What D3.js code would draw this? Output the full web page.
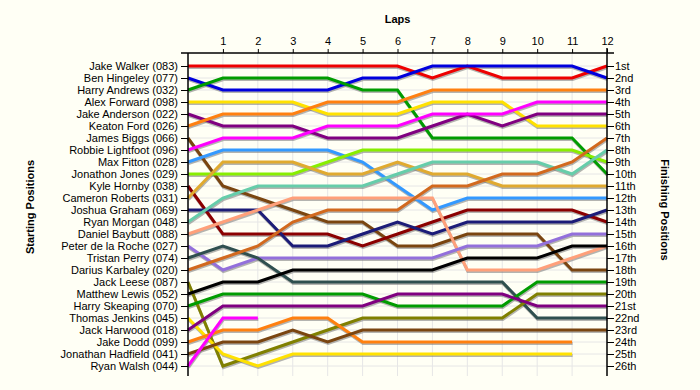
<!DOCTYPE html>
<html>
<head>
<meta charset="utf-8">
<script src="https://cdn.jsdelivr.net/npm/d3@7"></script>
<style>
  html, body { margin: 0; padding: 0; background: #fffff5; }
  svg { display: block; font-family: "Liberation Sans", Arial, sans-serif; }
</style>
</head>
<body>
<svg id="chart" width="700" height="390"></svg>
<script>
// ---- data ----
const laps = [0,1,2,3,4,5,6,7,8,9,10,11,12];
const lapLabels = ["1","2","3","4","5","6","7","8","9","10","11","12"];
const drivers = [
  "Jake Walker (083)", "Ben Hingeley (077)", "Harry Andrews (032)", "Alex Forward (098)",
  "Jake Anderson (022)", "Keaton Ford (026)", "James Biggs (066)", "Robbie Lightfoot (096)",
  "Max Fitton (028)", "Jonathon Jones (029)", "Kyle Hornby (038)", "Cameron Roberts (031)",
  "Joshua Graham (069)", "Ryan Morgan (048)", "Daniel Baybutt (088)", "Peter de la Roche (027)",
  "Tristan Perry (074)", "Darius Karbaley (020)", "Jack Leese (087)", "Matthew Lewis (052)",
  "Harry Skeaping (070)", "Thomas Jenkins (045)", "Jack Harwood (018)", "Jake Dodd (099)",
  "Jonathan Hadfield (041)", "Ryan Walsh (044)"
];
const finishLabels = ["1st","2nd","3rd","4th","5th","6th","7th","8th","9th","10th","11th","12th","13th",
  "14th","15th","16th","17th","18th","19th","20th","21st","22nd","23rd","24th","25th","26th"];
// race position of each driver at laps 0..12 (null = retired)
const positions = [
  [1,1,1,1,1,1,1,2,1,2,2,2,1],
  [2,3,3,3,3,2,2,1,1,1,1,1,2],
  [3,2,2,2,2,3,3,7,7,7,7,7,10],
  [4,4,4,4,5,5,5,4,4,4,6,6,6],
  [5,6,6,6,7,7,7,6,5,6,5,5,5],
  [6,5,5,5,4,4,4,3,3,3,3,3,3],
  [7,11,12,13,14,14,16,16,15,15,15,18,18],
  [8,7,7,7,6,6,6,5,5,5,4,4,4],
  [9,8,8,8,8,9,11,13,12,12,12,12,12],
  [10,10,10,10,9,8,8,8,8,8,8,8,9],
  [11,15,15,15,15,16,15,14,13,13,13,13,14],
  [12,9,9,9,10,10,9,10,10,11,11,11,11],
  [13,13,13,16,16,15,14,15,14,14,14,14,13],
  [14,12,11,11,11,11,10,9,9,9,9,10,8],
  [15,14,13,12,12,12,12,12,18,18,18,17,16],
  [16,18,17,17,17,17,17,17,16,16,16,15,15],
  [17,16,17,19,19,19,19,19,19,19,22,22,22],
  [18,17,16,14,13,13,13,11,11,10,10,9,7],
  [19,26,25,24,23,22,22,22,22,22,20,20,20],
  [20,19,19,18,18,18,18,18,17,17,17,16,16],
  [21,20,20,20,20,20,21,21,21,21,19,19,19],
  [22,25,26,25,25,25,25,25,25,25,25,25,null],
  [23,21,21,21,21,21,20,20,20,20,21,21,21],
  [24,23,23,22,22,24,24,24,24,24,24,24,null],
  [25,24,24,23,24,23,23,23,23,23,23,23,23],
  [26,22,22,null,null,null,null,null,null,null,null,null,null]
];
const palette = [
  "#ee0000","#0000dd","#009c00","#ffe100","#800080","#ff8010","#7a4510","#ff00ff",
  "#3399ff","#88ee00","#8b0000","#e0aa30","#1c1c78","#66cdaa","#ffa07a","#9370db",
  "#2f4f4f","#d2691e","#808000","#000000","#009c00","#ffe100","#800080","#ff8010",
  "#7a4510","#ff00ff"
];

// ---- chart ----
const svg = d3.select("#chart");
const x = d3.scaleLinear().domain([0, 12]).range([188, 607]);
const y = d3.scaleLinear().domain([1, 26]).range([66, 366]);
const yTop = 53, yBottom = 376;
const posIdx = d3.range(1, 27);

// grid
svg.append("g").selectAll("line").data(posIdx).join("line")
  .attr("x1", x(0)).attr("x2", x(12)).attr("y1", d => y(d)).attr("y2", d => y(d))
  .attr("stroke", "#e6e6e6").attr("stroke-width", 1);
svg.append("g").selectAll("line").data(laps.slice(1, 12)).join("line")
  .attr("x1", d => x(d)).attr("x2", d => x(d)).attr("y1", yTop).attr("y2", yBottom)
  .attr("stroke", "#e6e6e6").attr("stroke-width", 1);

// lines
const line = d3.line()
  .defined(d => d != null)
  .x((d, i) => x(laps[i]))
  .y(d => y(d));

const gShadow = svg.append("g").attr("transform", "translate(0.5,1.5)");
const gLines = svg.append("g");
positions.forEach((p, i) => {
  gShadow.append("path").attr("d", line(p)).attr("fill", "none")
    .attr("stroke", "#777").attr("stroke-opacity", 0.55).attr("stroke-width", 3)
    .attr("stroke-linejoin", "miter");
  gLines.append("path").attr("d", line(p)).attr("fill", "none")
    .attr("stroke", palette[i]).attr("stroke-width", 3)
    .attr("stroke-linejoin", "miter");
});

// axes
const topAxis = d3.axisTop(x).tickValues(laps.slice(1)).tickFormat((d, i) => lapLabels[i])
  .tickSize(4).tickSizeOuter(0);
const gt = svg.append("g").attr("transform", `translate(0,${yTop})`).call(topAxis);
gt.select(".domain").remove();
gt.selectAll("text").attr("font-size", 11).attr("fill", "#000").attr("font-family", "Liberation Sans, Arial, sans-serif").attr("dy", "-0.1em");
gt.selectAll("line").attr("stroke", "#000");
svg.append("line").attr("x1", 181).attr("x2", 614).attr("y1", yTop).attr("y2", yTop)
  .attr("stroke", "#000").attr("stroke-width", 1.5);

const leftAxis = d3.axisLeft(y).tickValues(posIdx).tickFormat(d => drivers[d - 1])
  .tickSize(7).tickSizeOuter(0).tickPadding(3);
const gl = svg.append("g").attr("transform", `translate(${x(0)},0)`).call(leftAxis);
gl.select(".domain").remove();
gl.selectAll("text").attr("font-size", 11).attr("fill", "#000").attr("font-family", "Liberation Sans, Arial, sans-serif");
gl.selectAll("line").attr("stroke", "#000");

const rightAxis = d3.axisRight(y).tickValues(posIdx).tickFormat(d => finishLabels[d - 1])
  .tickSize(7).tickSizeOuter(0).tickPadding(1);
const gr = svg.append("g").attr("transform", `translate(${x(12)},0)`).call(rightAxis);
gr.select(".domain").remove();
gr.selectAll("text").attr("font-size", 11).attr("fill", "#000").attr("font-family", "Liberation Sans, Arial, sans-serif");
gr.selectAll("line").attr("stroke", "#000");

svg.append("line").attr("x1", x(0)).attr("x2", x(0)).attr("y1", yTop).attr("y2", yBottom)
  .attr("stroke", "#000").attr("stroke-width", 1.5);
svg.append("line").attr("x1", x(12)).attr("x2", x(12)).attr("y1", yTop - 5).attr("y2", yBottom)
  .attr("stroke", "#000").attr("stroke-width", 1.5);

// titles
svg.append("text").attr("x", (x(0) + x(12)) / 2).attr("y", 23).attr("text-anchor", "middle")
  .attr("font-size", 11).attr("font-weight", "bold").text("Laps");
svg.append("text").attr("transform", "translate(34,207) rotate(-90)").attr("text-anchor", "middle")
  .attr("font-size", 11).attr("font-weight", "bold").text("Starting Positions");
svg.append("text").attr("transform", "translate(661,210) rotate(90)").attr("text-anchor", "middle")
  .attr("font-size", 11).attr("font-weight", "bold").text("Finishing Positions");
</script>
</body>
</html>
